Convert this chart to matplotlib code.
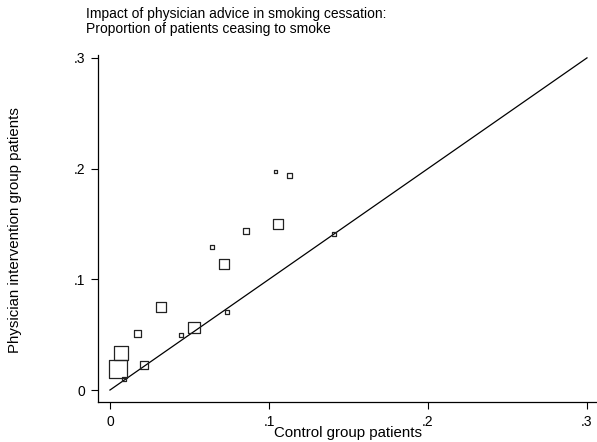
import matplotlib
matplotlib.use("Agg")
import matplotlib.pyplot as plt
import numpy as np
from matplotlib.ticker import FixedLocator, FuncFormatter

plt.rcParams['font.family'] = ['Liberation Sans', 'DejaVu Sans']

# Proportion ceasing to smoke in each trial
control = [0.0052, 0.0069, 0.0090, 0.0214, 0.0172, 0.0319, 0.0445, 0.0528,
           0.0736, 0.0640, 0.0717, 0.0854, 0.1055, 0.1044, 0.1132, 0.1409]
intervention = [0.0190, 0.0337, 0.0096, 0.0222, 0.0512, 0.0747, 0.0497, 0.0566,
                0.0705, 0.1294, 0.1135, 0.1436, 0.1499, 0.1978, 0.1942, 0.1410]
# Study weights (marker area proportional to weight)
weights = [34.0, 22.5, 2.5, 8.1, 5.6, 12.1, 2.5, 15.6,
           2.5, 2.5, 12.1, 4.9, 12.1, 1.6, 3.6, 2.5]
ticks = [0.0, 0.1, 0.2, 0.3]

title = "Impact of physician advice in smoking cessation:\nProportion of patients ceasing to smoke"
xlabel = "Control group patients"
ylabel = "Physician intervention group patients"

W, H, DPI = 597, 442, 100
fig = plt.figure(figsize=(W / DPI, H / DPI), dpi=DPI)
ax = fig.add_axes([97.7 / W, 1 - 402 / H, 1 - 97.7 / W, (402 - 55) / H])

side_px = np.sqrt(np.array(weights) * 10.0)
sizes = ((side_px - 1.0) * 72 / DPI) ** 2
ax.scatter(control, intervention, s=sizes, marker='s', facecolors='none',
           edgecolors='#222222', linewidths=0.9, zorder=3)

# Line of equality
ax.plot([ticks[0], ticks[-1]], [ticks[0], ticks[-1]], color='black', lw=0.9, zorder=2)

ax.set_xlim(-0.0077, 0.3063)
ax.set_ylim(-0.0108, 0.3026)

fmt = FuncFormatter(lambda v, p: "0" if abs(v) < 1e-9 else ("%.1f" % v).lstrip("0"))
for axis in (ax.xaxis, ax.yaxis):
    axis.set_major_locator(FixedLocator(ticks))
    axis.set_major_formatter(fmt)

ax.tick_params(direction='out', length=5.2, width=0.8, labelsize=10, colors='black', pad=4.0)
for s in ('top', 'right'):
    ax.spines[s].set_visible(False)
for s in ('left', 'bottom'):
    ax.spines[s].set_linewidth(0.9)

fig.text(86 / W, 1 - 7 / H, title, ha='left', va='top', fontsize=10, linespacing=1.05)
fig.text(348 / W, 1 - 433 / H, xlabel, ha='center', va='center', fontsize=10.8)
fig.text(15 / W, 1 - 230 / H, ylabel, ha='center', va='center', rotation=90, fontsize=10.8)

fig.savefig("out.png", dpi=DPI)
